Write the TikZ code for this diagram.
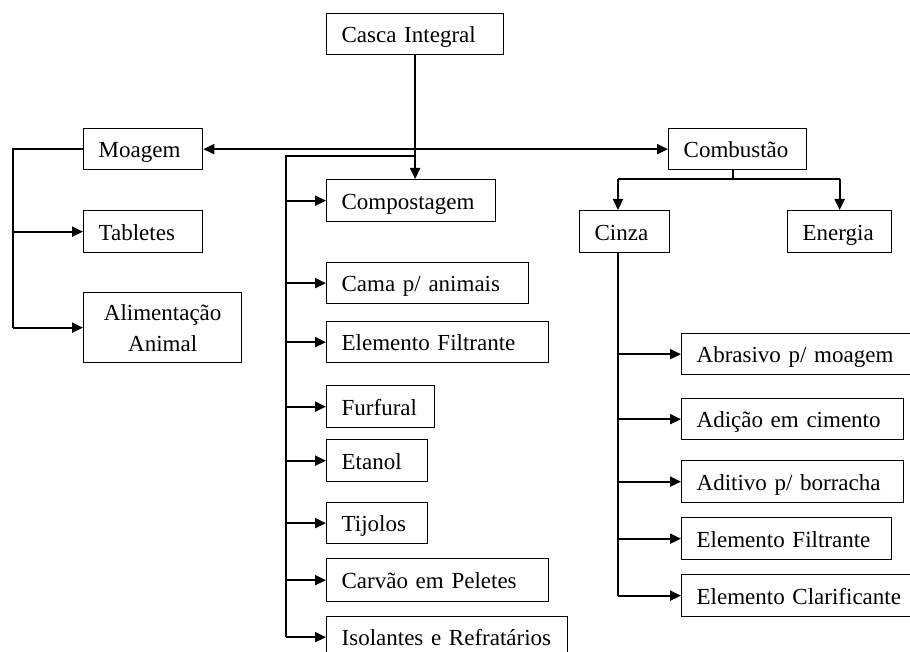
\documentclass[tikz,border=0pt]{standalone}
\usepackage{fontspec}
\setmainfont{Liberation Serif}
\usetikzlibrary{arrows.meta}
\begin{document}
\begin{tikzpicture}[x=1pt,y=-1pt,
  boxbase/.style={draw, line width=1.3pt, inner xsep=15pt, inner ysep=0pt,
    minimum height=41pt, anchor=north west,
    font=\fontsize{23}{31}\selectfont},
  box/.style={boxbase, align=left, text height=19pt, text depth=2pt},
  link/.style={line width=1.9pt},
  arr/.style={link, -{Triangle[length=11pt,width=10pt]}},
  darr/.style={link, {Triangle[length=11pt,width=10pt]}-{Triangle[length=11pt,width=10pt]}}]
\useasboundingbox (0,0) rectangle (910,652);
\clip (0,0) rectangle (910,652);
% top
\node[box, text width=147pt] (Casca) at (326,13) {Casca Integral};
% left
\node[box, text width=89pt] (Moagem) at (83,128) {Moagem};
\node[box, text width=89pt, minimum height=42pt] (Tab) at (83,210) {Tabletes};
\node[boxbase, text width=128pt, minimum height=70pt, align=center] (Alim) at (83,292) {Alimentação\\Animal};
% middle
\node[box, text width=139pt, minimum height=42pt] (Comp) at (326,179) {Compostagem};
\node[box, text width=172pt] (Cama) at (326,262) {Cama p/ animais};
\node[box, text width=192pt] (EFa) at (326,321) {Elemento Filtrante};
\node[box, text width=78pt, minimum height=42pt] (Furf) at (326,385) {Furfural};
\node[box, text width=71pt, minimum height=42pt] (Etan) at (326,439) {Etanol};
\node[box, text width=71pt] (Tij) at (326,502) {Tijolos};
\node[box, text width=192pt, minimum height=43pt] (Carv) at (326,558) {Carvão em Peletes};
\node[box, text width=211pt] (Isol) at (326,616) {Isolantes e Refratários};
% right
\node[box, text width=108pt] (Comb) at (668,128) {Combustão};
\node[box, text width=60pt, minimum height=42pt] (Cinza) at (579,210) {Cinza};
\node[box, text width=74pt, minimum height=42pt] (Ener) at (787,210) {Energia};
\node[box, text width=220pt] (Abr) at (681,333) {Abrasivo p/ moagem};
\node[box, text width=192pt] (Adic) at (681,398) {Adição em cimento};
\node[box, text width=192pt, minimum height=42pt] (Adit) at (681,460) {Aditivo p/ borracha};
\node[box, text width=180pt, minimum height=42pt] (EFb) at (681,517) {Elemento Filtrante};
\node[box, text width=220pt, minimum height=42pt] (Clar) at (681,574) {Elemento Clarificante};
% connectors: top
\draw[arr] (Casca.south) -- (Casca.south |- Comp.north);
\draw[darr] (Moagem.east) -- (Comb.west);
\coordinate (tk) at (286,156);
\draw[link] (Casca.south |- tk) -- (tk) -- (tk |- Isol.west);
\foreach \n in {Comp,Cama,EFa,Furf,Etan,Tij,Carv,Isol}
  \draw[arr] (tk |- \n.west) -- (\n.west);
% left branch
\coordinate (ml) at (13,148);
\draw[link] (Moagem.west) -- (Moagem.west -| ml) -- (ml |- Alim.west);
\draw[arr] (ml |- Tab.west) -- (Tab.west);
\draw[arr] (ml |- Alim.west) -- (Alim.west);
% combustion
\coordinate (cl) at (618,179);
\coordinate (cm) at (733,179);
\draw[link] (cm |- Comb.south) -- (cm);
\draw[link] (cl) -- (Ener.north |- cl);
\draw[arr] (cl) -- (cl |- Cinza.north);
\draw[arr] (Ener.north |- cl) -- (Ener.north);
\draw[link] (cl |- Cinza.south) -- (cl |- Clar.west);
\foreach \n in {Abr,Adic,Adit,EFb,Clar}
  \draw[arr] (cl |- \n.west) -- (\n.west);
\end{tikzpicture}
\end{document}
